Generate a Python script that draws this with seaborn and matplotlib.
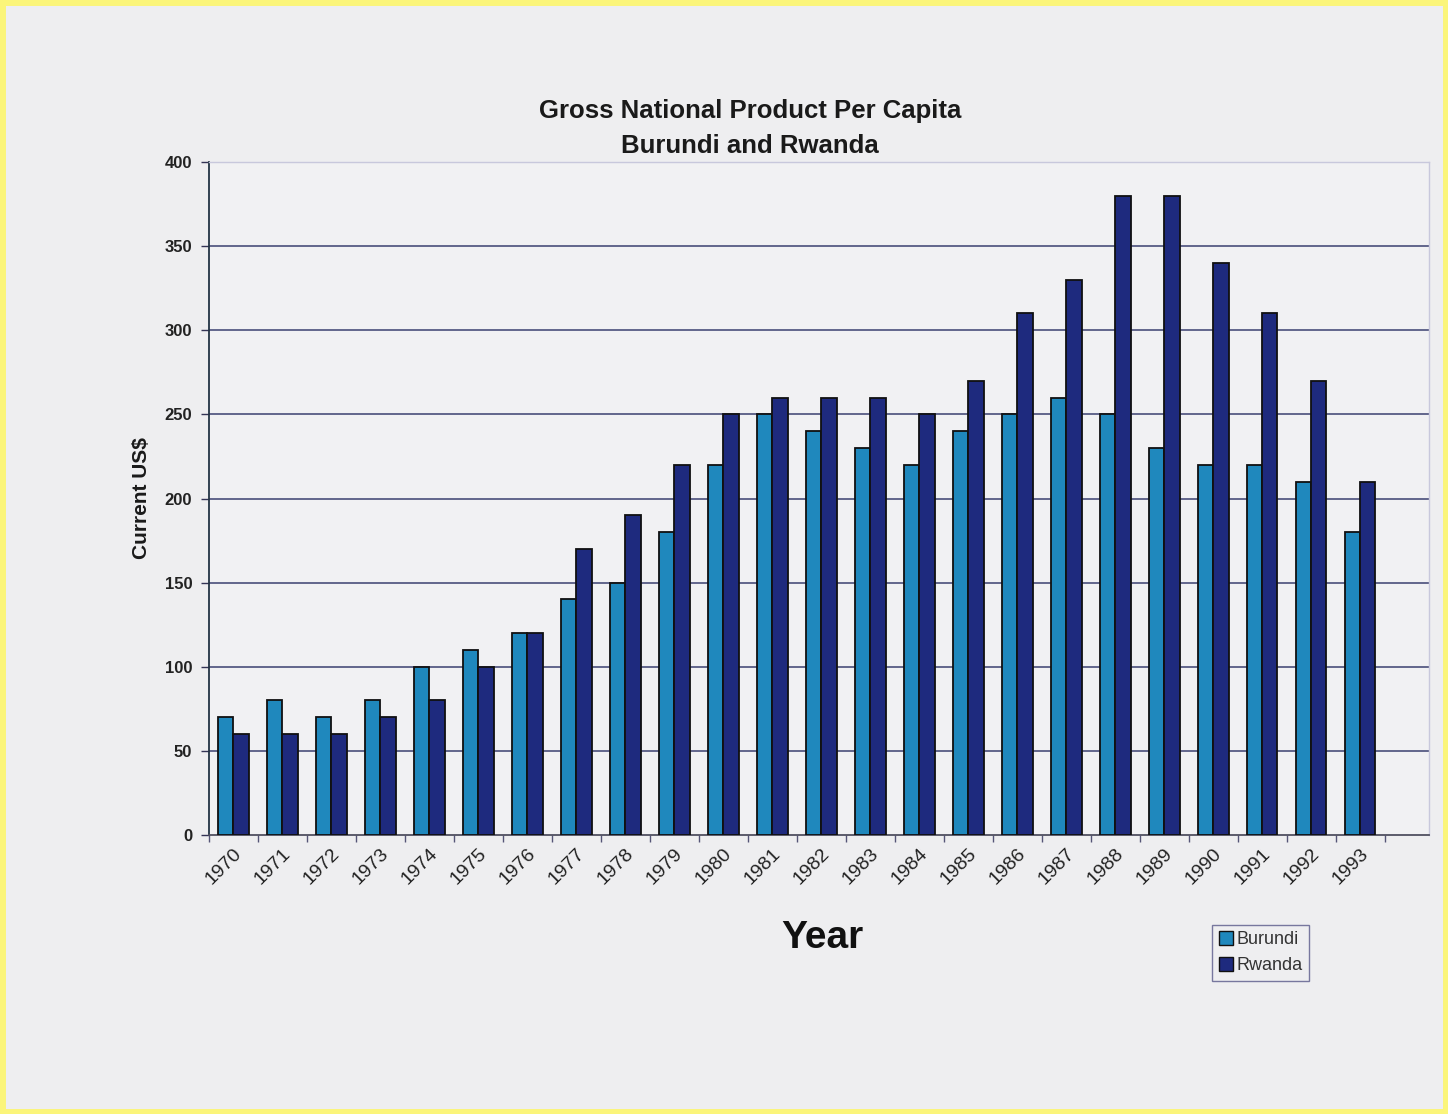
import matplotlib
matplotlib.use("Agg")
import matplotlib.pyplot as plt
import matplotlib.patches as mpatches
import numpy as np
import pandas as pd
import seaborn as sns

# Gross national product per capita, current US$
years = [str(y) for y in range(1970, 1994)]
burundi = [70, 80, 70, 80, 100, 110, 120, 140, 150, 180, 220, 250,
           240, 230, 220, 240, 250, 260, 250, 230, 220, 220, 210, 180]
rwanda = [60, 60, 60, 70, 80, 100, 120, 170, 190, 220, 250, 260,
          260, 260, 250, 270, 310, 330, 380, 380, 340, 310, 270, 210]
series_names = ["Burundi", "Rwanda"]
yticks = [0, 50, 100, 150, 200, 250, 300, 350, 400]

df = pd.DataFrame({
    "Year": years * 2,
    "Value": burundi + rwanda,
    "Country": [series_names[0]] * len(years) + [series_names[1]] * len(years),
})

sns.set_theme(style="white")
plt.rcParams["font.family"] = ["Liberation Sans", "DejaVu Sans"]

bg = "#eeeef0"
fig = plt.figure(figsize=(14.48, 11.14), dpi=100, facecolor=bg)
ax = fig.add_axes([0.1443, 0.2504, 0.8425, 0.6042])
ax.set_facecolor("#f1f1f3")

# one spare empty category at the right end of the axis
order = years + [" "]
palette = {"Burundi": "#1f88bd", "Rwanda": "#1e2a7e"}
sns.barplot(data=df, x="Year", y="Value", hue="Country", order=order,
            hue_order=series_names, palette=palette, width=0.62,
            edgecolor="#101010", linewidth=1.3, saturation=1,
            ax=ax, legend=False, zorder=3)

ax.set_ylim(0, 400)
ax.set_xlim(-0.5, len(order) - 0.6)
ax.set_yticks(yticks)
ax.set_yticklabels([str(v) for v in yticks], fontsize=12, fontweight="bold",
                   color="#222222")
for v in yticks[1:]:
    ax.axhline(v, color="#3b4070", linewidth=1.1, zorder=1)

# category labels at group centres, tick marks between groups
ax.set_xticks(range(len(order)))
ax.set_xticklabels(order, rotation=45, ha="right", rotation_mode="anchor",
                   fontsize=14, color="#222222")
ax.tick_params(axis="x", which="major", length=0, pad=7)
ax.set_xticks(np.arange(-0.5, len(order) - 0.5, 1.0), minor=True)
ax.tick_params(axis="x", which="minor", length=5, color="#555577", width=1,
               bottom=True)
ax.tick_params(axis="y", which="major", length=6, color="#333355", width=1,
               left=True, pad=6)

for side in ["top", "right"]:
    ax.spines[side].set_color("#c8c8dc")
    ax.spines[side].set_linewidth(1)
ax.spines["left"].set_color("#223344")
ax.spines["left"].set_linewidth(1.3)
ax.spines["bottom"].set_color("#505060")
ax.spines["bottom"].set_linewidth(1.3)

ax.set_xlabel("")
ax.set_ylabel("Current US$", fontsize=15, fontweight="bold", color="#1a1a1a",
              labelpad=10)

fig.text(0.518, 0.8845, "Gross National Product Per Capita\nBurundi and Rwanda",
         ha="center", va="center", fontsize=18.5, fontweight="bold",
         color="#1a1a1a", linespacing=1.55)
fig.text(0.568, 0.158, "Year", ha="center", va="center", fontsize=28,
         fontweight="bold", color="#111111")

handles = [mpatches.Patch(facecolor=palette[n], edgecolor="#101010", label=n)
           for n in series_names]
leg = fig.legend(handles=handles, loc="upper left",
                 bbox_to_anchor=(0.831, 0.178), fontsize=13, frameon=True,
                 fancybox=False, handlelength=0.8, handleheight=0.8,
                 handletextpad=0.2, borderpad=0.35, labelspacing=0.5)
for t in leg.get_texts():
    t.set_color("#333333")
leg.get_frame().set_edgecolor("#5a5a8a")
leg.get_frame().set_facecolor(bg)
leg.get_frame().set_linewidth(1)

# yellow frame around the page
fig.patches.append(mpatches.Rectangle((0.0015, 0.002), 0.997, 0.996,
                                      transform=fig.transFigure, fill=False,
                                      edgecolor="#fbf57a", linewidth=5))

fig.savefig("out.png", dpi=100, facecolor=bg)
